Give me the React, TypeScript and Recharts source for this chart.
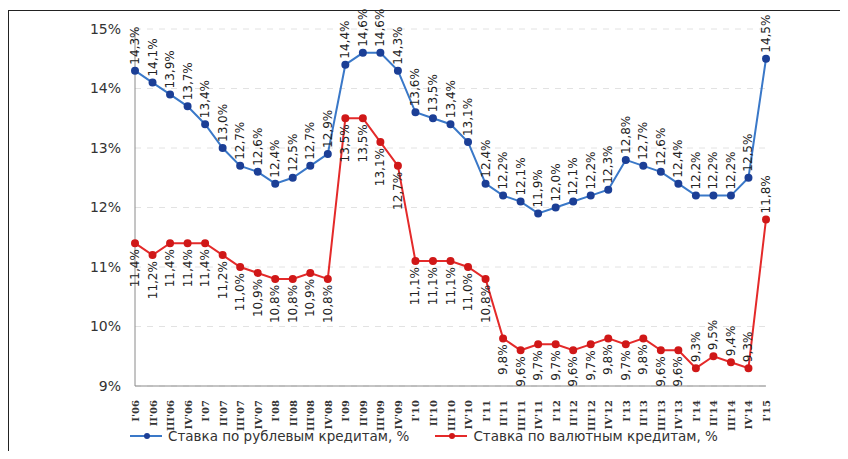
import React from "react"
import { LineChart, Line, XAxis, YAxis, CartesianGrid, LabelList } from "recharts"

const quarters = [
  "I'06", "II'06", "III'06", "IV'06",
  "I'07", "II'07", "III'07", "IV'07",
  "I'08", "II'08", "III'08", "IV'08",
  "I'09", "II'09", "III'09", "IV'09",
  "I'10", "II'10", "III'10", "IV'10",
  "I'11", "II'11", "III'11", "IV'11",
  "I'12", "II'12", "III'12", "IV'12",
  "I'13", "II'13", "III'13", "IV'13",
  "I'14", "II'14", "III'14", "IV'14",
  "I'15",
]

const rubRates = [
  14.3, 14.1, 13.9, 13.7, 13.4, 13.0, 12.7, 12.6, 12.4, 12.5, 12.7, 12.9,
  14.4, 14.6, 14.6, 14.3, 13.6, 13.5, 13.4, 13.1, 12.4, 12.2, 12.1, 11.9,
  12.0, 12.1, 12.2, 12.3, 12.8, 12.7, 12.6, 12.4, 12.2, 12.2, 12.2, 12.5,
  14.5,
]

const fxRates = [
  11.4, 11.2, 11.4, 11.4, 11.4, 11.2, 11.0, 10.9, 10.8, 10.8, 10.9, 10.8,
  13.5, 13.5, 13.1, 12.7, 11.1, 11.1, 11.1, 11.0, 10.8, 9.8, 9.6, 9.7,
  9.7, 9.6, 9.7, 9.8, 9.7, 9.8, 9.6, 9.6, 9.3, 9.5, 9.4, 9.3,
  11.8,
]

const yTicks = [9, 10, 11, 12, 13, 14, 15]

const rubName = "Ставка по рублевым кредитам, %"
const fxName = "Ставка по валютным кредитам, %"

const BLUE = "#3a78c8"
const BLUE_DOT = "#1c3f96"
const RED = "#e42a2a"
const RED_DOT = "#d01818"

const data = quarters.map((q, i) => ({ q, rub: rubRates[i], fx: fxRates[i] }))

const fmt = (v: number) => v.toFixed(1).replace(".", ",") + "%"

const XTick = (props: any) => {
  const { x, y, payload } = props
  return (
    <g transform={`translate(${x},${y})`}>
      <text transform="rotate(-90)" x={-6} dy={4} textAnchor="end"
        fontFamily="'DejaVu Serif'" fontWeight="bold" fontSize={10} fill="#333">
        {payload.value}
      </text>
    </g>
  )
}

const makeLabel = (below: (i: number) => boolean) => (props: any) => {
  const { x, y, value, index } = props
  const down = below(index)
  return (
    <g transform={`translate(${x},${y})`}>
      <text transform="rotate(-90)" x={down ? -6 : 6} dy={4}
        textAnchor={down ? "end" : "start"}
        fontFamily="'DejaVu Sans'" fontSize={12} fill="#222">
        {fmt(value)}
      </text>
    </g>
  )
}

const rubLabel = makeLabel(() => false)
const fxLabel = makeLabel((i) => i < 32)

function LegendItem({ color, dot, text }: { color: string, dot: string, text: string }) {
  return (
    <div style={{ display: "flex", alignItems: "center", marginRight: 26 }}>
      <svg width={36} height={10}>
        <line x1={0} y1={5} x2={32} y2={5} stroke={color} strokeWidth={2} />
        <circle cx={17} cy={5} r={3} fill={dot} />
      </svg>
      <span style={{ marginLeft: 2 }}>{text}</span>
    </div>
  )
}

export default function App() {
  return (
    <div style={{ position: "relative", width: 832, height: 443, overflow: "hidden" }}>
      <div style={{
        position: "absolute", left: 0, top: 2, width: 840, height: 460,
        borderLeft: "1px solid #222", borderTop: "1px solid #222",
      }} />
      <div style={{ position: "absolute", left: 0, top: 0 }}>
        <LineChart width={832} height={443} data={data}
          margin={{ top: 21, right: 74, left: 67, bottom: 35 }}>
          <CartesianGrid vertical={false} stroke="#e2e2e2" strokeDasharray="6 6" />
          <XAxis dataKey="q" interval={0} height={30} tickLine={false}
            axisLine={{ stroke: "#8a8a8a" }} tick={<XTick />} />
          <YAxis domain={[9, 15]} ticks={yTicks} width={60} tickLine={false}
            tickSize={8} tickMargin={6}
            axisLine={{ stroke: "#8a8a8a" }}
            tickFormatter={(v: number) => v + "%"}
            tick={{ fontSize: 14, fill: "#333", fontFamily: "'DejaVu Sans'" }} />
          <Line dataKey="rub" name={rubName} stroke={BLUE} strokeWidth={2}
            dot={{ r: 3, fill: BLUE_DOT, stroke: BLUE_DOT }} isAnimationActive={false}>
            <LabelList dataKey="rub" content={rubLabel} />
          </Line>
          <Line dataKey="fx" name={fxName} stroke={RED} strokeWidth={2}
            dot={{ r: 3, fill: RED_DOT, stroke: RED_DOT }} isAnimationActive={false}>
            <LabelList dataKey="fx" content={fxLabel} />
          </Line>
        </LineChart>
      </div>
      <div style={{
        position: "absolute", left: 122, top: 420, display: "flex",
        fontFamily: "'DejaVu Sans'", fontSize: 13.5, color: "#333",
      }}>
        <LegendItem color={BLUE} dot={BLUE_DOT} text={rubName} />
        <LegendItem color={RED} dot={RED_DOT} text={fxName} />
      </div>
    </div>
  )
}
